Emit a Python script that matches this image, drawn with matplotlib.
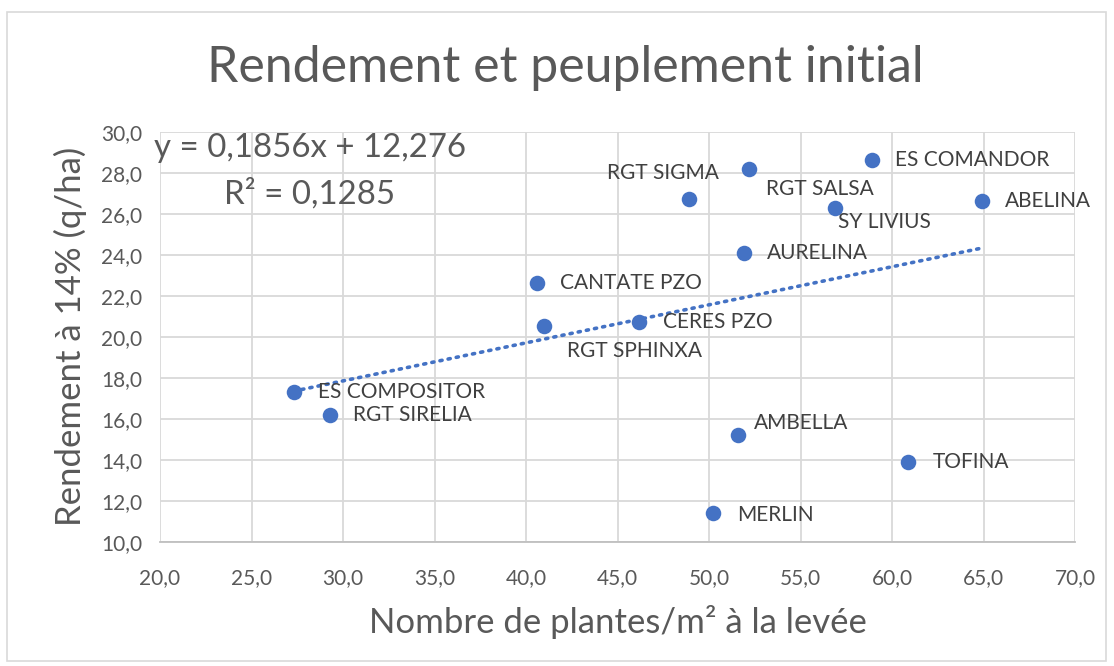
import matplotlib
matplotlib.use('Agg')
from matplotlib import pyplot as plt
from matplotlib.ticker import MultipleLocator, FuncFormatter
from matplotlib.patches import Rectangle
import numpy as np

plt.rcParams['font.family'] = ['Lato', 'DejaVu Sans']

# values
varieties = ['RGT SALSA', 'RGT SIGMA', 'ES COMANDOR', 'SY LIVIUS', 'ABELINA',
             'AURELINA', 'CANTATE PZO', 'RGT SPHINXA', 'CERES PZO',
             'ES COMPOSITOR', 'RGT SIRELIA', 'AMBELLA', 'TOFINA', 'MERLIN']
plants = [52.2, 48.9, 58.9, 56.9, 64.9, 51.9, 40.6, 41.0, 46.2,
          27.3, 29.3, 51.6, 60.9, 50.2]
yields = [28.2, 26.7, 28.6, 26.3, 26.6, 24.1, 22.6, 20.5, 20.7,
          17.3, 16.2, 15.2, 13.9, 11.4]

slope = 0.1856
intercept = 12.276
r2 = 0.1285

# where each label sits relative to its dot (pixels)
label_offsets = [(17, -20), (-82, 26), (23, 0), (3, -14), (23, 0),
                 (23, 0), (23, 0), (23, -25), (24, 0),
                 (24, 0), (23, 0), (16, 12), (24, 0), (24, -2)]

blue = '#4472C4'
grey = '#595959'

fig = plt.figure(figsize=(11.14, 6.66), dpi=100)
fig.patches.append(Rectangle((0.006, 0.008), 0.987, 0.974, transform=fig.transFigure,
                             fill=False, edgecolor='#D9D9D9', linewidth=1.2))

ax = fig.add_axes([160 / 1114, 1 - 541.7 / 666, 915 / 1114, 410 / 666])
ax.set_xlim(20, 70)
ax.set_ylim(10, 30)
ax.xaxis.set_major_locator(MultipleLocator(5))
ax.yaxis.set_major_locator(MultipleLocator(2))
fmt = FuncFormatter(lambda v, p: f'{v:.1f}'.replace('.', ','))
ax.xaxis.set_major_formatter(fmt)
ax.yaxis.set_major_formatter(fmt)
ax.grid(True, color='#D9D9D9', linewidth=1.3)
ax.set_axisbelow(True)
for s in ['top', 'right', 'left']:
    ax.spines[s].set_visible(False)
ax.spines['bottom'].set_color('#BFBFBF')
ax.spines['bottom'].set_linewidth(1.3)
ax.tick_params(length=0, labelsize=15, labelcolor=grey)
ax.tick_params(axis='x', pad=19)
ax.tick_params(axis='y', pad=13)

ax.scatter(plants, yields, s=125, color=blue, zorder=3, linewidths=0)

xs = np.array([min(plants), max(plants)])
ax.plot(xs, slope * xs + intercept, color=blue, linestyle=(0, (0.6, 1.7)),
        linewidth=2.6, dash_capstyle='round', zorder=2)

for name, x, y, off in zip(varieties, plants, yields, label_offsets):
    ax.annotate(name, (x, y), xytext=off, textcoords='offset pixels',
                ha='left', va='center', fontsize=15, color='#404040', zorder=4)

eq = f'y = {slope:.4f}x + {intercept:.3f}'.replace('.', ',')
fig.text(310 / 1114, 1 - 148 / 666, eq, ha='center', va='center', fontsize=23.8, color=grey)
fig.text(310 / 1114, 1 - 194 / 666, f'R² = {r2:.4f}'.replace('.', ','),
         ha='center', va='center', fontsize=23.8, color=grey)

fig.text(565 / 1114, 1 - 68 / 666, 'Rendement et peuplement initial', ha='center', va='center',
         fontsize=36, color=grey)
ax.set_xlabel('Nombre de plantes/m² à la levée', fontsize=25, color=grey, labelpad=12)
ax.set_ylabel('Rendement à 14% (q/ha)', fontsize=25, color=grey, labelpad=10)

fig.savefig('out.png', dpi=100)
